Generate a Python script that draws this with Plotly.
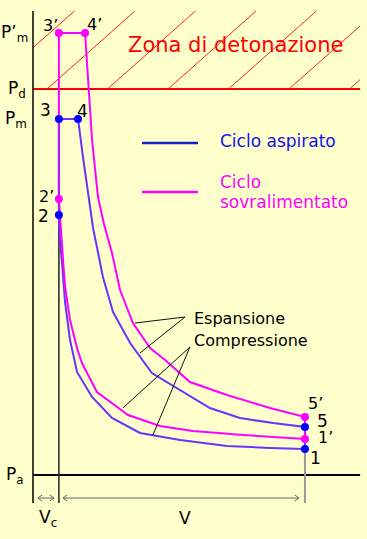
import plotly.graph_objects as go

# ---------------- data (volume in units of Vc, pressure in arbitrary units, Pa = 1) -------------
VC = 1.0          # clearance volume
V_END = 10.5      # total volume (Vc + V)
PA = 1.0          # atmospheric pressure
PD = 39.6         # detonation limit pressure
PM = 36.6         # max pressure, naturally aspirated
PM_SOVR = 45.2    # max pressure, supercharged

# Ciclo aspirato
asp_comp_v = [10.5, 9.15, 7.49, 5.68, 4.13, 3.05, 2.28, 1.70, 1.43, 1.24, 1.12, 1.04, 1.00]
asp_comp_p = [3.6, 3.7, 3.9, 4.5, 5.2, 6.7, 8.8, 11.3, 14.5, 18.2, 22.2, 24.5, 27.0]
asp_exp_v = [1.74, 1.93, 2.32, 2.70, 3.09, 3.75, 4.59, 5.68, 6.83, 7.99, 9.27, 10.5]
asp_exp_p = [36.6, 32.8, 25.7, 20.8, 17.3, 14.2, 11.2, 9.5, 7.7, 6.7, 6.2, 5.8]

# Ciclo sovralimentato
sov_comp_v = [10.5, 8.11, 6.18, 4.90, 3.67, 2.47, 1.89, 1.70, 1.43, 1.24, 1.16, 1.08, 1.00]
sov_comp_p = [4.6, 5.0, 5.4, 5.9, 7.0, 9.3, 12.2, 13.7, 16.5, 19.8, 22.5, 25.5, 28.6]
sov_exp_v = [2.01, 2.28, 2.51, 2.74, 3.05, 3.36, 3.86, 4.52, 5.10, 6.06, 7.49, 9.15, 10.5]
sov_exp_p = [45.2, 34.5, 28.8, 26.1, 23.2, 19.5, 16.2, 13.7, 12.5, 10.3, 9.0, 7.7, 6.8]

asp_point_labels = ["1", "2", "3", "4", "5"]
sov_point_labels = ["1’", "2’", "3’", "4’", "5’"]

# ---------------- styles ----------------
BG = "#FFFFCC"
BLUE_LINE = "#6633FF"
BLUE_DOT = "#0000FF"
MAG = "#FF00FF"
FONT = "DejaVu Sans"

X_RANGE = [-1.274, 12.896]
Y_RANGE = [-5.4, 48.5]
V_AXIS_END = 12.63
P_TOP = 47.4
P_BOTTOM = -1.8

fig = go.Figure()

# ---- cycles ----
asp_x = asp_comp_v + [VC] + asp_exp_v + [asp_comp_v[0]]
asp_y = asp_comp_p + [PM] + asp_exp_p + [asp_comp_p[0]]
sov_x = sov_comp_v + [VC] + sov_exp_v + [sov_comp_v[0]]
sov_y = sov_comp_p + [PM_SOVR] + sov_exp_p + [sov_comp_p[0]]

fig.add_trace(go.Scatter(x=asp_x, y=asp_y, mode="lines",
                         line=dict(color=BLUE_LINE, width=2), hoverinfo="skip"))
fig.add_trace(go.Scatter(x=sov_x, y=sov_y, mode="lines",
                         line=dict(color=MAG, width=2), hoverinfo="skip"))
# overlap of the two vertical lines (3 -> 2)
fig.add_trace(go.Scatter(x=[VC, VC], y=[PM, asp_comp_p[-1]], mode="lines",
                         line=dict(color=BLUE_LINE, width=2), opacity=0.45, hoverinfo="skip"))

# ---- points ----
asp_pts_v = [asp_comp_v[0], asp_comp_v[-1], VC, asp_exp_v[0], asp_exp_v[-1]]
asp_pts_p = [asp_comp_p[0], asp_comp_p[-1], PM, asp_exp_p[0], asp_exp_p[-1]]
sov_pts_v = [sov_comp_v[0], sov_comp_v[-1], VC, sov_exp_v[0], sov_exp_v[-1]]
sov_pts_p = [sov_comp_p[0], sov_comp_p[-1], PM_SOVR, sov_exp_p[0], sov_exp_p[-1]]

fig.add_trace(go.Scatter(x=sov_pts_v, y=sov_pts_p, mode="markers",
                         marker=dict(color=MAG, size=8), hoverinfo="skip"))
fig.add_trace(go.Scatter(x=asp_pts_v, y=asp_pts_p, mode="markers",
                         marker=dict(color=BLUE_DOT, size=8), hoverinfo="skip"))

shapes = []
# hatch lines of the detonation zone
slope = 0.4356
for k in range(-1, 6):
    vb = 0.54 + 2.336 * k
    x0, y0 = vb, PD
    x1, y1 = vb + slope * (P_TOP - PD), P_TOP
    if x0 < 0:
        y0 = PD + (0 - vb) / slope
        x0 = 0
    if x1 > V_AXIS_END:
        y1 = PD + (V_AXIS_END - vb) / slope
        x1 = V_AXIS_END
    shapes.append(dict(type="line", x0=x0, y0=y0, x1=x1, y1=y1,
                       line=dict(color="#FF2020", width=1), layer="below"))
# detonation limit
shapes.append(dict(type="line", x0=0, x1=V_AXIS_END, y0=PD, y1=PD,
                   line=dict(color="#FF0000", width=2), layer="below"))
# axes
shapes.append(dict(type="line", x0=0, x1=0, y0=P_BOTTOM, y1=P_TOP,
                   line=dict(color="#000000", width=1.5), layer="below"))
shapes.append(dict(type="line", x0=0, x1=V_AXIS_END, y0=PA, y1=PA,
                   line=dict(color="#000000", width=2), layer="below"))
# Vc and V reference lines
shapes.append(dict(type="line", x0=VC, x1=VC, y0=P_BOTTOM, y1=asp_comp_p[-1],
                   line=dict(color="#222222", width=1.5), layer="below"))
shapes.append(dict(type="line", x0=V_END, x1=V_END, y0=P_BOTTOM, y1=asp_comp_p[0],
                   line=dict(color="#999999", width=2), layer="below"))
# legend lines
shapes.append(dict(type="line", x0=4.21, x1=6.37, y0=34.2, y1=34.2,
                   line=dict(color="#1122CC", width=2.5)))
shapes.append(dict(type="line", x0=4.21, x1=6.37, y0=29.3, y1=29.3,
                   line=dict(color=MAG, width=2.5)))
# leader lines
for (xa, ya, xb, yb) in [(5.87, 16.8, 3.94, 16.2), (5.87, 16.8, 4.13, 13.2),
                         (6.06, 13.8, 3.47, 7.7), (6.06, 13.8, 4.63, 5.0)]:
    shapes.append(dict(type="line", x0=xa, y0=ya, x1=xb, y1=yb,
                       line=dict(color="#111111", width=1)))

# dimension arrows (Vc and V) with open chevron heads
ARW_P = -1.3
HX, HY = 0.16, 0.3
for (xa, xb) in [(0.19, 0.81), (1.16, 10.27)]:
    shapes.append(dict(type="line", x0=xa, x1=xb, y0=ARW_P, y1=ARW_P,
                       line=dict(color="#666666", width=1)))
    shapes.append(dict(type="path",
                       path=f"M {xa+HX},{ARW_P+HY} L {xa},{ARW_P} L {xa+HX},{ARW_P-HY}",
                       line=dict(color="#666666", width=1)))
    shapes.append(dict(type="path",
                       path=f"M {xb-HX},{ARW_P+HY} L {xb},{ARW_P} L {xb-HX},{ARW_P-HY}",
                       line=dict(color="#666666", width=1)))

ann = []

def txt(x, y, t, size=17, color="#000000", xanchor="center", yanchor="middle"):
    ann.append(dict(x=x, y=y, xref="x", yref="y", text=t, showarrow=False,
                    font=dict(family=FONT, size=size, color=color),
                    xanchor=xanchor, yanchor=yanchor))

# axis labels
txt(-0.12, PM_SOVR, "P’<sub>m</sub>", xanchor="right")
txt(-0.20, PD, "P<sub>d</sub>", xanchor="right")
txt(-0.15, PM, "P<sub>m</sub>", xanchor="right")
txt(-0.27, PA, "P<sub>a</sub>", xanchor="right")
txt(0.58, -3.3, "V<sub>c</sub>")
txt(5.87, -3.3, "V")

# point labels
asp_lab_pos = [(10.89, 2.7), (0.42, 26.9), (0.50, 37.5), (1.93, 37.4), (11.16, 6.4)]
sov_lab_pos = [(11.30, 4.8), (0.54, 28.9), (0.69, 46.0), (2.39, 46.1), (10.89, 8.2)]
for (x, y), t in zip(asp_lab_pos, asp_point_labels):
    txt(x, y, t)
for (x, y), t in zip(sov_lab_pos, sov_point_labels):
    txt(x, y, t, size=16)

# titles
txt(7.82, 44.0, "Zona di detonazione", size=21, color="#FF0000")
txt(7.14, 34.4, "Ciclo aspirato", size=17, color="#1111EE", xanchor="left")
txt(7.14, 30.3, "Ciclo", size=17, color=MAG, xanchor="left")
txt(7.14, 28.3, "sovralimentato", size=17, color=MAG, xanchor="left")
txt(6.14, 16.7, "Espansione", size=16, xanchor="left")
txt(6.14, 14.5, "Compressione", size=16, xanchor="left")

fig.update_layout(
    width=367, height=539, autosize=False,
    margin=dict(l=0, r=0, t=0, b=0),
    paper_bgcolor=BG, plot_bgcolor=BG,
    showlegend=False,
    xaxis=dict(range=X_RANGE, visible=False, fixedrange=True),
    yaxis=dict(range=Y_RANGE, visible=False, fixedrange=True),
    shapes=shapes, annotations=ann,
)

fig.write_html("out.html", config=dict(displayModeBar=False),
               post_script="document.body.style.margin='0';document.body.style.background='#FFFFCC';")
